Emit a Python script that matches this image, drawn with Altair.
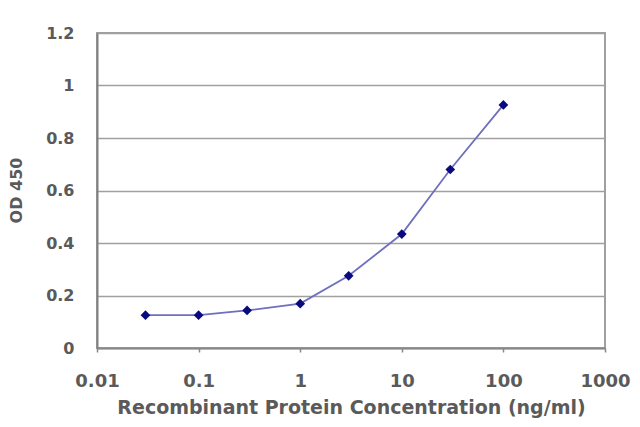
import altair as alt
import pandas as pd

conc = [0.03, 0.1, 0.3, 1, 3, 10, 30, 100]
od450 = [0.125, 0.125, 0.143, 0.169, 0.275, 0.434, 0.680, 0.926]
x_ticks = [0.01, 0.1, 1, 10, 100, 1000]
y_ticks = [0, 0.2, 0.4, 0.6, 0.8, 1.0, 1.2]

df = pd.DataFrame({"conc": conc, "od": od450})

FONT = "DejaVu Sans"
TXT = "#5a5a5a"

x = alt.X(
    "conc:Q",
    scale=alt.Scale(type="log", domain=[0.01, 1000], nice=False),
    axis=alt.Axis(
        title="Recombinant Protein Concentration (ng/ml)",
        values=x_ticks,
        labelExpr="datum.value >= 1 ? format(datum.value, 'd') : format(datum.value, '.2~f')",
        grid=False,
        tickSize=4,
        tickColor="#888888",
        tickWidth=1.5,
        labelPadding=20,
        labelBaseline="top",
        labelFontSize=18,
        labelFont=FONT,
        labelFontWeight="bold",
        labelColor=TXT,
        titleFontSize=19,
        titleFont=FONT,
        titleFontWeight="bold",
        titleColor=TXT,
        titleY=59,
        titleBaseline="middle",
        domainColor="#888888",
        domainWidth=2,
        labelFlush=False,
        labelOverlap=False,
    ),
)
y = alt.Y(
    "od:Q",
    scale=alt.Scale(domain=[0, 1.2], nice=False),
    axis=alt.Axis(
        title="OD 450",
        values=y_ticks,
        format="~g",
        ticks=False,
        labelPadding=23,
        labelFontSize=16,
        labelFont=FONT,
        labelFontWeight="bold",
        labelColor=TXT,
        grid=True,
        gridColor="#a0a0a0",
        gridWidth=1.5,
        titleFontSize=16,
        titleFont=FONT,
        titleFontWeight="bold",
        titleColor=TXT,
        titleX=-81,
        titleY=157,
        titleAngle=-90,
        titleBaseline="middle",
        domainColor="#808080",
        domainWidth=2,
    ),
)

line = alt.Chart(df).mark_line(color="#6f6fbf", strokeWidth=1.8).encode(x=x, y=y)
points = alt.Chart(df).mark_point(
    shape="diamond", filled=True, color="#0a0a80", size=95, opacity=1
).encode(x=x, y=y)

chart = (
    (line + points)
    .properties(
        width=508,
        height=315,
        autosize=alt.AutoSizeParams(type="none"),
        padding={"left": 89, "top": 25, "right": 27, "bottom": 71},
        background="white",
    )
    .configure_view(stroke="#a0a0a0", strokeWidth=2)
)

chart.save("out.html", embed_options={"renderer": "svg", "actions": False})
